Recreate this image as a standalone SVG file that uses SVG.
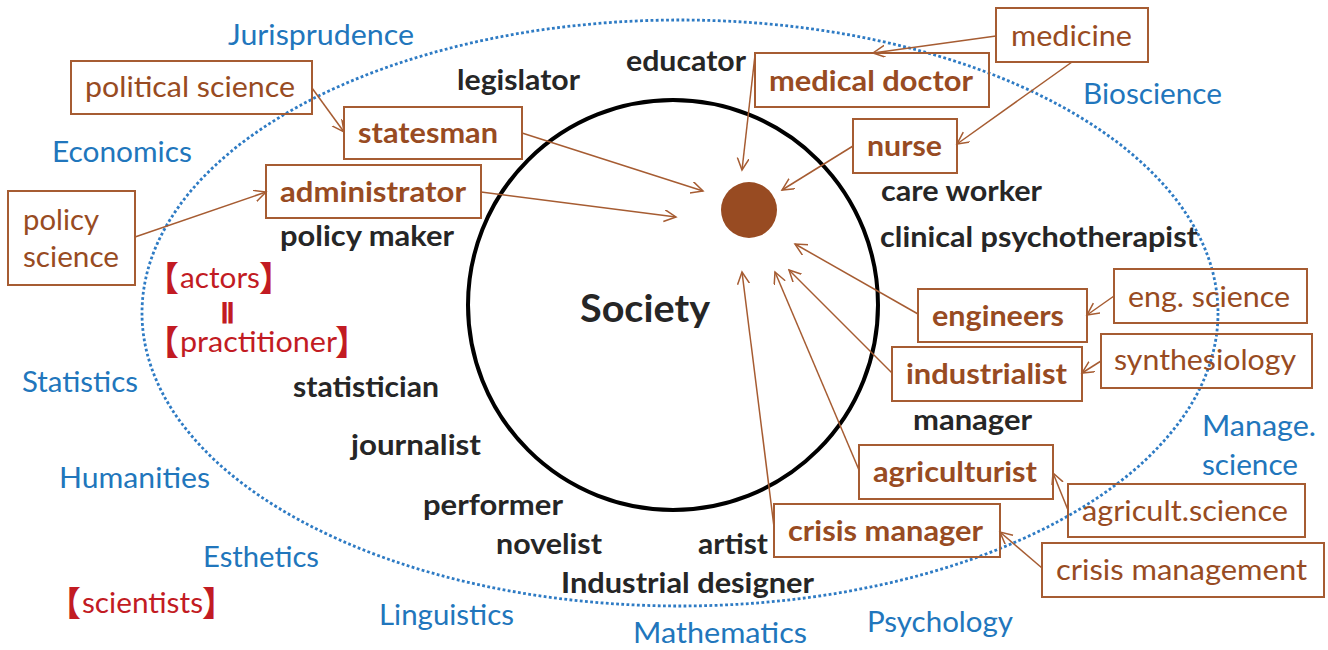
<svg xmlns="http://www.w3.org/2000/svg" width="1328" height="650" viewBox="0 0 1328 650">
<style>
text{font-family:Lato,"Liberation Sans","Noto Sans CJK JP",sans-serif;}
.blue{font-size:29px;fill:#2176BC;}
.blk{font-size:28px;font-weight:bold;fill:#262626;}
.br{font-size:29px;fill:#984B22;}
.brb{font-size:28px;font-weight:bold;fill:#984B22;}
.red{font-size:29px;fill:#C21B23;}
.brk{font-size:34px;font-weight:bold;fill:#C21B23;font-family:"Noto Sans CJK JP",sans-serif;}
.box{fill:none;stroke:#A65C32;stroke-width:2;}
.con line{stroke:#A65C32;stroke-width:1.5;marker-end:url(#ah);}
</style>
<defs>
<marker id="ah" markerWidth="14" markerHeight="14" refX="12" refY="6" orient="auto" markerUnits="userSpaceOnUse">
<path d="M0,0 L12,6 L0,12" fill="none" stroke="#A65C32" stroke-width="1.5"/>
</marker>
</defs>
<rect width="1328" height="650" fill="#fff"/>
<g id="field">
<ellipse cx="680" cy="313" rx="538" ry="293" fill="none" stroke="#2E7BC4" stroke-width="2.8" stroke-dasharray="2.8 2.4"/>
</g>
<g id="society">
<circle cx="673" cy="305" r="205" fill="none" stroke="#000" stroke-width="4"/>
<circle cx="749" cy="210" r="28" fill="#984B22"/>
<text x="580" y="322" textLength="130" lengthAdjust="spacingAndGlyphs" style="font-size:38px;font-weight:bold;fill:#262626">Society</text>
</g>
<g id="sciences">
<g id="jurisprudence"><text class="blue" x="228" y="45" textLength="186" lengthAdjust="spacingAndGlyphs">Jurisprudence</text></g>
<g id="economics"><text class="blue" x="52" y="162" textLength="140" lengthAdjust="spacingAndGlyphs">Economics</text></g>
<g id="statistics"><text class="blue" x="22" y="392" textLength="116" lengthAdjust="spacingAndGlyphs">Statistics</text></g>
<g id="humanities"><text class="blue" x="59" y="488" textLength="151" lengthAdjust="spacingAndGlyphs">Humanities</text></g>
<g id="esthetics"><text class="blue" x="203" y="567" textLength="116" lengthAdjust="spacingAndGlyphs">Esthetics</text></g>
<g id="linguistics"><text class="blue" x="379" y="625" textLength="135" lengthAdjust="spacingAndGlyphs">Linguistics</text></g>
<g id="mathematics"><text class="blue" x="633" y="643" textLength="174" lengthAdjust="spacingAndGlyphs">Mathematics</text></g>
<g id="psychology"><text class="blue" x="867" y="632" textLength="146" lengthAdjust="spacingAndGlyphs">Psychology</text></g>
<g id="manage-science"><text class="blue" x="1202" y="436" textLength="114" lengthAdjust="spacingAndGlyphs">Manage.</text><text class="blue" x="1202" y="475" textLength="96" lengthAdjust="spacingAndGlyphs">science</text></g>
<g id="bioscience"><text class="blue" x="1083" y="104" textLength="139" lengthAdjust="spacingAndGlyphs">Bioscience</text></g>
</g>
<g id="legend">
<g id="actors-label">
<text class="brk" x="145" y="291">【</text>
<text class="red" x="180" y="288" textLength="80" lengthAdjust="spacingAndGlyphs">actors</text>
<text class="brk" x="259" y="291">】</text>
<text transform="translate(227,318) scale(1.7,1)" text-anchor="middle" style="font-size:22px;font-weight:bold;fill:#C21B23;font-family:'DejaVu Sans',sans-serif">‖</text>
<text class="brk" x="145" y="355">【</text>
<text class="red" x="180" y="352" textLength="157" lengthAdjust="spacingAndGlyphs">practitioner</text>
<text class="brk" x="335" y="355">】</text>
</g>
<g id="scientists-label">
<text class="brk" x="47" y="616">【</text>
<text class="red" x="82" y="613" textLength="121" lengthAdjust="spacingAndGlyphs">scientists</text>
<text class="brk" x="202" y="616">】</text>
</g>
</g>
<g id="roles">
<g id="legislator"><text class="blk" x="457" y="90" textLength="123" lengthAdjust="spacingAndGlyphs">legislator</text></g>
<g id="educator"><text class="blk" x="626" y="71" textLength="120" lengthAdjust="spacingAndGlyphs">educator</text></g>
<g id="policy-maker"><text class="blk" x="280" y="246" textLength="174" lengthAdjust="spacingAndGlyphs">policy maker</text></g>
<g id="statistician"><text class="blk" x="293" y="397" textLength="146" lengthAdjust="spacingAndGlyphs">statistician</text></g>
<g id="journalist"><text class="blk" x="351" y="455" textLength="130" lengthAdjust="spacingAndGlyphs">journalist</text></g>
<g id="performer"><text class="blk" x="423" y="515" textLength="140" lengthAdjust="spacingAndGlyphs">performer</text></g>
<g id="novelist"><text class="blk" x="496" y="554" textLength="106" lengthAdjust="spacingAndGlyphs">novelist</text></g>
<g id="artist"><text class="blk" x="698" y="554" textLength="70" lengthAdjust="spacingAndGlyphs">artist</text></g>
<g id="industrial-designer"><text class="blk" x="561" y="593" textLength="253" lengthAdjust="spacingAndGlyphs">Industrial designer</text></g>
<g id="care-worker"><text class="blk" x="881" y="201" textLength="161" lengthAdjust="spacingAndGlyphs">care worker</text></g>
<g id="clinical-psychotherapist"><text class="blk" x="880" y="247" textLength="318" lengthAdjust="spacingAndGlyphs">clinical psychotherapist</text></g>
<g id="manager"><text class="blk" x="913" y="430" textLength="119" lengthAdjust="spacingAndGlyphs">manager</text></g>
</g>
<g id="political-science"><rect class="box" x="71" y="61" width="241" height="53"/><text class="br" x="85" y="97" textLength="210" lengthAdjust="spacingAndGlyphs">political science</text></g>
<g id="statesman"><rect class="box" x="344" y="107" width="178" height="52"/><text class="brb" x="358" y="143" textLength="140" lengthAdjust="spacingAndGlyphs">statesman</text></g>
<g id="administrator"><rect class="box" x="266" y="165" width="215" height="53"/><text class="brb" x="280" y="202" textLength="186" lengthAdjust="spacingAndGlyphs">administrator</text></g>
<g id="policy-science"><rect class="box" x="8" y="191" width="127" height="94"/><text class="br" x="23" y="230" textLength="76" lengthAdjust="spacingAndGlyphs">policy</text><text class="br" x="23" y="267" textLength="96" lengthAdjust="spacingAndGlyphs">science</text></g>
<g id="medical-doctor"><rect class="box" x="755" y="53" width="234" height="54"/><text class="brb" x="769" y="91" textLength="204" lengthAdjust="spacingAndGlyphs">medical doctor</text></g>
<g id="medicine"><rect class="box" x="996" y="8" width="152" height="54"/><text class="br" x="1011" y="46" textLength="121" lengthAdjust="spacingAndGlyphs">medicine</text></g>
<g id="nurse"><rect class="box" x="853" y="119" width="104" height="54"/><text class="brb" x="867" y="156" textLength="75" lengthAdjust="spacingAndGlyphs">nurse</text></g>
<g id="eng-science"><rect class="box" x="1114" y="269" width="193" height="54"/><text class="br" x="1128" y="307" textLength="162" lengthAdjust="spacingAndGlyphs">eng. science</text></g>
<g id="engineers"><rect class="box" x="918" y="289" width="169" height="53"/><text class="brb" x="932" y="326" textLength="132" lengthAdjust="spacingAndGlyphs">engineers</text></g>
<g id="synthesiology"><rect class="box" x="1101" y="334" width="211" height="54"/><text class="br" x="1114" y="370" textLength="182" lengthAdjust="spacingAndGlyphs">synthesiology</text></g>
<g id="industrialist"><rect class="box" x="892" y="347" width="190" height="54"/><text class="brb" x="906" y="384" textLength="161" lengthAdjust="spacingAndGlyphs">industrialist</text></g>
<g id="agriculturist"><rect class="box" x="859" y="445" width="194" height="54"/><text class="brb" x="873" y="482" textLength="164" lengthAdjust="spacingAndGlyphs">agriculturist</text></g>
<g id="agricult-science"><rect class="box" x="1068" y="484" width="237" height="53"/><text class="br" x="1082" y="521" textLength="206" lengthAdjust="spacingAndGlyphs">agricult.science</text></g>
<g id="crisis-manager"><rect class="box" x="774" y="504" width="226" height="53"/><text class="brb" x="788" y="541" textLength="195" lengthAdjust="spacingAndGlyphs">crisis manager</text></g>
<g id="crisis-management"><rect class="box" x="1042" y="543" width="282" height="54"/><text class="br" x="1056" y="580" textLength="251" lengthAdjust="spacingAndGlyphs">crisis management</text></g>
<g id="connectors" class="con">
<line x1="312" y1="88" x2="344" y2="132"/>
<line x1="522" y1="133" x2="703" y2="191"/>
<line x1="135" y1="237" x2="266" y2="192"/>
<line x1="481" y1="192" x2="676" y2="217"/>
<line x1="996" y1="36" x2="873" y2="53"/>
<line x1="755" y1="55" x2="742" y2="170"/>
<line x1="1072" y1="62" x2="957" y2="144"/>
<line x1="853" y1="146" x2="782" y2="190"/>
<line x1="1114" y1="296" x2="1087" y2="315"/>
<line x1="918" y1="314" x2="795" y2="244"/>
<line x1="1101" y1="361" x2="1082" y2="373"/>
<line x1="892" y1="373" x2="789" y2="270"/>
<line x1="1068" y1="510" x2="1053" y2="473"/>
<line x1="859" y1="470" x2="775" y2="272"/>
<line x1="1042" y1="568" x2="1000" y2="532"/>
<line x1="774" y1="527" x2="742" y2="272"/>
</g>
</svg>
